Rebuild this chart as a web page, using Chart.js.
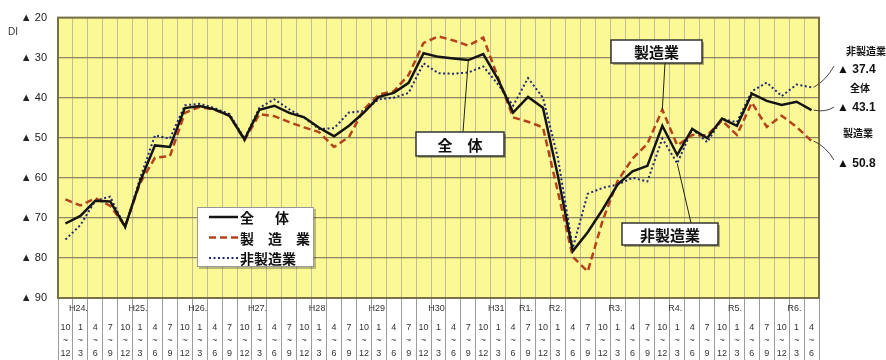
<!DOCTYPE html>
<html>
<head>
<meta charset="utf-8">
<script src="https://cdn.jsdelivr.net/npm/chart.js@4"></script>
<style>
  html, body { margin: 0; padding: 0; background: #fff; }
  #c { display: block; }
</style>
</head>
<body>
<canvas id="c" width="886" height="360"></canvas>
<script>
// quarter columns, H23 10-12 .. R6 4-6
const quarterStart = ['10','1','4','7','10','1','4','7','10','1','4','7','10','1','4','7','10','1','4','7',
  '10','1','4','7','10','1','4','7','10','1','4','7','10','1','4','7','10','1','4','7',
  '10','1','4','7','10','1','4','7','10','1','4'];
const quarterEnd = ['12','3','6','9','12','3','6','9','12','3','6','9','12','3','6','9','12','3','6','9',
  '12','3','6','9','12','3','6','9','12','3','6','9','12','3','6','9','12','3','6','9',
  '12','3','6','9','12','3','6','9','12','3','6'];
const yearLabels = ['','H24.','','','','H25.','','','','H26.','','','','H27.','','','','H28','','',
  '','H29','','','','H30','','','','H31','','R1.','','R2.','','','','R3.','','',
  '','R4.','','','','R5.','','','','R6.',''];

// DI (▲ = minus)
const zentai = [-71.4,-69.5,-65.7,-65.9,-72.2,-60.9,-51.9,-52.3,-42.6,-42.1,
  -42.9,-44.5,-50.4,-43.0,-42.0,-43.8,-44.9,-47.5,-49.6,-47.0,
  -43.7,-39.8,-38.8,-36.3,-28.9,-29.8,-30.2,-30.6,-29.1,-35.5,
  -43.7,-39.8,-42.5,-59.5,-78.3,-73.6,-67.9,-61.7,-58.4,-57.0,
  -47.0,-54.3,-47.8,-50.1,-45.2,-47.0,-39.0,-40.8,-41.8,-41.0,-43.1];
const seizo = [-65.4,-66.9,-65.1,-67.0,-72.1,-61.3,-55.0,-54.6,-43.8,-42.3,
  -43.0,-44.5,-50.6,-44.1,-44.6,-46.1,-47.4,-48.6,-52.3,-49.8,
  -42.9,-39.2,-38.4,-34.3,-26.3,-24.7,-25.7,-27.0,-25.0,-35.1,
  -44.9,-46.0,-47.4,-63.5,-79.7,-83.4,-70.7,-60.8,-55.2,-51.5,
  -43.0,-51.9,-49.3,-49.4,-45.7,-49.3,-41.2,-47.3,-44.5,-47.3,-50.8];
const hiseizo = [-75.4,-71.8,-65.7,-64.7,-72.4,-60.1,-49.4,-50.2,-41.9,-41.5,
  -42.6,-44.1,-50.2,-42.5,-40.4,-42.9,-45.0,-47.8,-47.6,-43.7,
  -43.3,-40.4,-40.0,-38.8,-31.4,-33.9,-34.0,-33.7,-32.2,-36.7,
  -42.0,-35.1,-40.0,-55.0,-77.5,-64.0,-62.5,-61.7,-60.0,-60.9,
  -50.2,-56.4,-47.8,-51.1,-45.3,-46.1,-38.4,-36.2,-39.6,-36.7,-37.4];

const legendNames = ['全\u3000\u2002体', '製\u3000造\u3000業', '非製造業'];
const endNames = ['全体', '製造業', '非製造業'];

const JP = '"Noto Sans CJK JP", sans-serif';
const SANS = '"Liberation Sans", Arial, sans-serif';

// callout boxes pointing at a data point: dataset, index, box x/y/w/h
const callouts = [
  { ds: 0, idx: 27, text: '全\u3000体', box: [416, 132, 88, 24], from: [463, 132] },
  { ds: 1, idx: 40, text: '製造業', box: [611, 40, 91, 23], from: [665, 63] },
  { ds: 2, idx: 41, text: '非製造業', box: [622, 223, 96, 22], from: [691, 223] }
];

const decor = {
  id: 'decor',
  beforeDraw(chart) {
    const { ctx, chartArea: a } = chart;
    ctx.save();
    ctx.fillStyle = '#ffffff';
    ctx.fillRect(0, 0, chart.width, chart.height);
    ctx.fillStyle = '#fbf996';
    ctx.fillRect(a.left, a.top, a.right - a.left, a.bottom - a.top);
    ctx.restore();
  },
  afterDraw(chart) {
    const { ctx, chartArea: a } = chart;
    const xs = chart.scales.x, ys = chart.scales.y;
    const ds = chart.data.datasets;
    ctx.save();

    // plot frame
    ctx.strokeStyle = '#7a7048';
    ctx.lineWidth = 2;
    ctx.strokeRect(a.left, a.top, a.right - a.left, a.bottom - a.top);

    // year row of the table
    ctx.fillStyle = '#333';
    ctx.font = '9px ' + SANS;
    ctx.textAlign = 'center';
    ctx.textBaseline = 'middle';
    yearLabels.forEach((t, i) => {
      if (t) ctx.fillText(t, xs.getPixelForValue(i) - 2, 309);
    });

    // DI
    ctx.font = '10px ' + SANS;
    ctx.textAlign = 'left';
    ctx.fillText('DI', 8, 32);

    // legend box
    ctx.fillStyle = 'rgba(0,0,0,0.25)';
    ctx.fillRect(199, 209, 117, 60);
    ctx.fillStyle = '#fff';
    ctx.fillRect(197, 207, 117, 60);
    ctx.strokeStyle = '#999';
    ctx.lineWidth = 1;
    ctx.strokeRect(197.5, 207.5, 116, 59);
    ds.forEach((d, k) => {
      const y = 217 + k * 20.5;
      ctx.strokeStyle = d.borderColor;
      ctx.lineWidth = d.borderWidth;
      ctx.setLineDash(d.borderDash || []);
      ctx.beginPath();
      ctx.moveTo(209, y);
      ctx.lineTo(238, y);
      ctx.stroke();
      ctx.setLineDash([]);
      ctx.fillStyle = '#111';
      ctx.font = 'bold 14px ' + JP;
      ctx.textAlign = 'left';
      ctx.fillText(legendNames[k], 240, y + 1);
    });

    // callouts
    callouts.forEach(c => {
      const px = xs.getPixelForValue(c.idx);
      const py = ys.getPixelForValue(ds[c.ds].data[c.idx]);
      ctx.strokeStyle = '#222';
      ctx.lineWidth = 1;
      ctx.beginPath();
      ctx.moveTo(c.from[0], c.from[1]);
      ctx.lineTo(px, py);
      ctx.stroke();
      const [bx, by, bw, bh] = c.box;
      ctx.fillStyle = 'rgba(0,0,0,0.3)';
      ctx.fillRect(bx + 2, by + 2, bw, bh);
      ctx.fillStyle = '#fff';
      ctx.fillRect(bx, by, bw, bh);
      ctx.strokeStyle = '#333';
      ctx.lineWidth = 1.5;
      ctx.strokeRect(bx, by, bw, bh);
      ctx.fillStyle = '#111';
      ctx.font = 'bold 15px ' + JP;
      ctx.textAlign = 'center';
      ctx.fillText(c.text, bx + bw / 2, by + bh / 2 + 1);
    });

    // end labels on the right
    const last = zentai.length - 1;
    const ends = [
      { k: 2, name: [866, 51], val: [837, 70], to: [834, 66] },
      { k: 0, name: [860, 88], val: [837, 108], to: [834, 107] },
      { k: 1, name: [858, 133], val: [837, 164], to: [834, 160] }
    ];
    ends.forEach(e => {
      const v = ds[e.k].data[last];
      const px = xs.getPixelForValue(last) + 2;
      const py = ys.getPixelForValue(v);
      ctx.strokeStyle = '#444';
      ctx.lineWidth = 1;
      ctx.beginPath();
      ctx.moveTo(px, py);
      ctx.quadraticCurveTo(e.to[0] - 8, (py + e.to[1]) / 2 + (e.to[1] > py ? -4 : 4), e.to[0], e.to[1]);
      ctx.stroke();
      ctx.fillStyle = '#111';
      ctx.font = 'bold 10px ' + JP;
      ctx.textAlign = 'center';
      ctx.fillText(endNames[e.k], e.name[0], e.name[1]);
      ctx.font = 'bold 12px ' + SANS;
      ctx.textAlign = 'left';
      ctx.fillText('▲ ' + Math.abs(v).toFixed(1), e.val[0], e.val[1]);
    });

    ctx.restore();
  }
};

new Chart(document.getElementById('c'), {
  type: 'line',
  data: {
    labels: quarterStart.map((s, i) => [s, '~', quarterEnd[i]]),
    datasets: [
      { label: '全体', data: zentai, borderColor: '#141414', borderWidth: 2.5 },
      { label: '製造業', data: seizo, borderColor: '#b5421a', borderWidth: 2.5, borderDash: [7, 4] },
      { label: '非製造業', data: hiseizo, borderColor: '#1f2870', borderWidth: 2, borderDash: [2, 2.5] }
    ]
  },
  options: {
    responsive: false,
    animation: false,
    devicePixelRatio: 1,
    layout: { padding: { left: 0, right: 67, top: 14, bottom: 0 } },
    elements: { point: { radius: 0 }, line: { tension: 0 } },
    plugins: { legend: { display: false }, tooltip: { enabled: false } },
    scales: {
      x: {
        offset: true,
        grid: { offset: true, color: '#c2bd9c', lineWidth: 1, tickLength: 62, tickColor: '#9c9c9c', tickWidth: 1 },
        border: { display: false },
        ticks: {
          autoSkip: false, maxRotation: 0, minRotation: 0,
          padding: -39, color: '#333',
          font: { family: SANS, size: 9, lineHeight: 1.45 }
        },
        afterFit(s) { s.height = 62; }
      },
      y: {
        min: -90, max: -20,
        grid: { color: '#8c8760', lineWidth: 1.2, drawTicks: false },
        border: { display: false },
        ticks: {
          stepSize: 10, padding: 11, color: '#222',
          font: { family: SANS, size: 11 },
          callback: v => '▲ ' + Math.abs(v)
        },
        afterFit(s) { s.width = 58; }
      }
    }
  },
  plugins: [decor]
});
</script>
</body>
</html>
